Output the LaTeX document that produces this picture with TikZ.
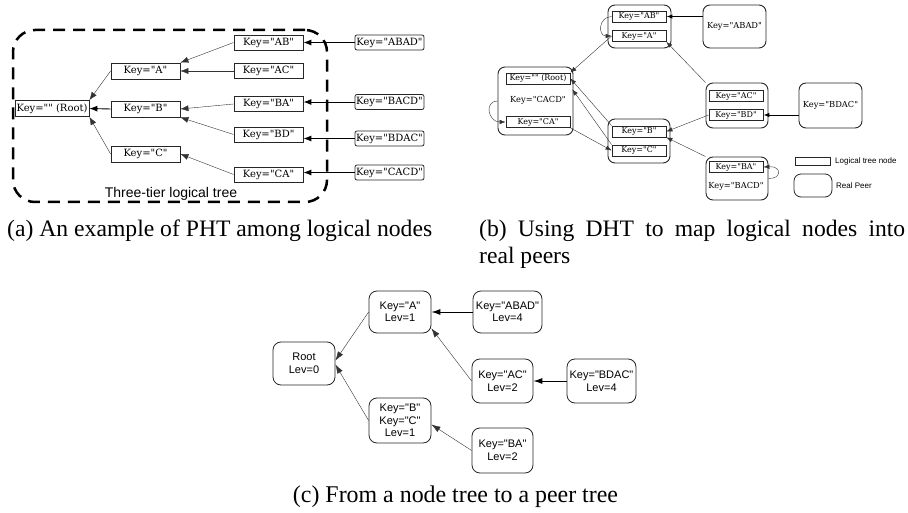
\documentclass[tikz,border=0pt]{standalone}
\usepackage{graphicx}
\usepackage{fontspec}
\setmainfont{Liberation Serif}
\newfontfamily\dvs{DejaVu Serif}
\newfontfamily\lsans{Liberation Sans}
\usetikzlibrary{arrows.meta}
\newcommand\capfont{\normalfont\fontsize{23.6}{28}\selectfont}
\newcommand\capfontc{\normalfont\fontsize{24}{28}\selectfont}
\begin{document}
\begin{tikzpicture}[x=1pt,y=-1pt,
  boxa/.style={draw=black!85, line width=0.8pt, minimum width=69pt, minimum height=15pt, inner sep=0pt, font=\dvs\fontsize{10}{12}\selectfont},
  leafa/.style={boxa, rounded corners=2pt},
  boxb/.style={draw=black!85, line width=0.8pt, minimum width=54pt, minimum height=11pt, inner sep=0pt, font=\dvs\fontsize{8}{10}\selectfont},
  peer/.style={draw=black!85, line width=0.9pt, rounded corners=7pt, inner sep=0pt, font=\dvs\fontsize{8.3}{10}\selectfont},
  plain/.style={inner sep=0pt},
  cnode/.style={draw=black!85, line width=0.8pt, rounded corners=8pt, align=center, inner sep=0pt, font=\lsans\fontsize{11}{12.5}\selectfont},
  thin arrow/.style={-{Latex[length=8pt,width=6pt]}, line width=0.4pt, draw=black!80},
  bold arrow/.style={-{Latex[length=8pt,width=6pt]}, line width=0.9pt},
  thin arrowb/.style={-{Latex[length=6pt,width=4.5pt]}, line width=0.4pt, draw=black!80},
  bold arrowb/.style={-{Latex[length=6pt,width=4.5pt]}, line width=0.9pt},
  thin arrowc/.style={-{Latex[length=9pt,width=6pt]}, line width=0.4pt, draw=black!80},
  bold arrowc/.style={-{Latex[length=9pt,width=6pt]}, line width=0.9pt},
  legend/.style={inner sep=0pt, anchor=west, font=\lsans\fontsize{8}{9}\selectfont}
]
\useasboundingbox (0,0) rectangle (908,513);

% ---------------- panel (a) ----------------
\node[draw, line width=2.5pt, dash pattern=on 12pt off 8pt, rounded corners=22pt,
      minimum width=314pt, minimum height=172pt, inner sep=0pt] (tier) at (170,116) {};
\node[plain, font=\lsans\fontsize{14}{16}\selectfont] (tierlabel) at (171,194) {Three-tier logical tree};

\node[boxa, minimum width=74pt, minimum height=16pt] (aR) at (52,108.5) {Key="" (Root)};
\node[boxa, minimum height=16pt] (aA) at (145.5,71) {Key="A"};
\node[boxa, minimum height=16pt] (aB) at (145.5,109) {Key="B"};
\node[boxa, minimum height=16pt] (aC) at (145.5,154) {Key="C"};
\node[boxa] (aAB) at (268.5,42.5) {Key="AB"};
\node[boxa] (aAC) at (268.5,71) {Key="AC"};
\node[boxa] (aBA) at (268.5,104) {Key="BA"};
\node[boxa] (aBD) at (268.5,134.5) {Key="BD"};
\node[boxa] (aCA) at (268.5,174.5) {Key="CA"};
\node[leafa] (aABAD) at (389.5,42.5) {Key="ABAD"};
\node[leafa] (aBACD) at (389.5,102) {Key="BACD"};
\node[leafa] (aBDAC) at (389.5,138.5) {Key="BDAC"};
\node[leafa] (aCACD) at (389.5,172.5) {Key="CACD"};

\draw[thin arrow] (aA.west) -- (aR.north east);
\draw[bold arrow] (aB.west) -- (aR.east);
\draw[thin arrow] (aC.west) -- (aR.south east);
\draw[thin arrow] (aAB.west) -- (aA.north east);
\draw[thin arrow] (aAC.west) -- (aA.east);
\draw[thin arrow] (aBA.west) -- (aB.east);
\draw[thin arrow] (aBD.west) -- (aB.south east);
\draw[thin arrow] (aCA.west) -- (aC.east);
\draw[bold arrow] (aABAD.west) -- (aABAD.west -| aAB.east);
\draw[bold arrow] (aBACD.west) -- (aBACD.west -| aBA.east);
\draw[bold arrow] (aBDAC.west) -- (aBDAC.west -| aBD.east);
\draw[bold arrow] (aCACD.west) -- (aCACD.west -| aCA.east);

% ---------------- panel (b) ----------------
\node[peer, minimum width=63pt, minimum height=43pt] (bP1) at (639.5,26.5) {};
\node[boxb] (bAB) at (639,16.5) {Key="AB"};
\node[boxb] (bA) at (639,36) {Key="A"};
\node[peer, minimum width=63pt, minimum height=43pt] (bPABAD) at (734.5,26.5) {Key="ABAD"};

\node[peer, minimum width=75pt, minimum height=68pt] (bPR) at (535.5,101) {};
\node[boxb, minimum width=64pt] (bR) at (538,78.5) {Key="" (Root)};
\node[plain, font=\dvs\fontsize{8.3}{10}\selectfont] (bCACD) at (538,100) {Key="CACD"};
\node[boxb, minimum width=64pt] (bCA) at (538,122) {Key="CA"};

\node[peer, minimum width=62pt, minimum height=44pt] (bPBC) at (639,141) {};
\node[boxb] (bB) at (639,131.5) {Key="B"};
\node[boxb] (bC) at (639,150.5) {Key="C"};

\node[peer, minimum width=62pt, minimum height=45pt] (bPAC) at (737,105.5) {};
\node[boxb] (bAC) at (736,96) {Key="AC"};
\node[boxb] (bBD) at (736,115) {Key="BD"};

\node[peer, minimum width=63pt, minimum height=45pt] (bPBDAC) at (830.5,105.5) {Key="BDAC"};

\node[peer, minimum width=62pt, minimum height=43pt] (bPBA) at (737,178.5) {};
\node[boxb] (bBA) at (736,167) {Key="BA"};
\node[plain, font=\dvs\fontsize{8.3}{10}\selectfont] (bBACD) at (736,186) {Key="BACD"};

% legend
\node[draw=black!85, line width=0.6pt, minimum width=35pt, minimum height=8pt, inner sep=0pt] (lgbox) at (812.5,161) {};
\node[legend] (lgboxt) at (835,161) {Logical tree node};
\node[draw=black!85, line width=0.8pt, rounded corners=7pt, minimum width=38pt, minimum height=23pt, inner sep=0pt] (lgpeer) at (813,185.5) {};
\node[legend] (lgpeert) at (836,186) {Real Peer};

\draw[bold arrowb] (bPABAD.west |- bAB) -- (bAB.east);
\draw[bold arrowb] (bPBDAC.west |- bBD) -- (bBD.east);
\draw[thin arrowb] (bAB.west) .. controls (598,17) and (598,36) .. (bA.west);
\draw[thin arrowb] (bPR.west) .. controls (484,101) and (488,122) .. (bCA.west);
\draw[thin arrowb] (bPBA.east) .. controls (782,179) and (782,166) .. (bBA.east);
\draw[thin arrowb] (bA.west) -- (bR.north east);
\draw[thin arrowb] (bPAC.north west) -- (bA.south east);
\draw[thin arrowb] (bB.north west) -- (bR.east);
\draw[thin arrowb] (bC.north west) -- ([shift={(2pt,-5pt)}]bR.south east);
\draw[thin arrowb] (bCA.south east) -- (bC.west);
\draw[thin arrowb] (bBD.west) -- (bB.east);
\draw[thin arrowb] (bPBA.north west) -- (bB.south east);

% ---------------- panel (c) ----------------
\node[cnode, minimum width=62pt, minimum height=43pt] (cR) at (304,363.5) {Root\\Lev=0};
\node[cnode, minimum width=62pt, minimum height=42pt] (cA) at (400,312) {Key="A"\\Lev=1};
\node[cnode, minimum width=62pt, minimum height=45pt] (cBC) at (400,420.5) {Key="B"\\Key="C"\\Lev=1};
\node[cnode, minimum width=69pt, minimum height=42pt] (cABAD) at (507.5,312) {Key="ABAD"\\Lev=4};
\node[cnode, minimum width=61pt, minimum height=44pt] (cAC) at (502.5,381) {Key="AC"\\Lev=2};
\node[cnode, minimum width=69pt, minimum height=44pt] (cBDAC) at (601.5,381) {Key="BDAC"\\Lev=4};
\node[cnode, minimum width=61pt, minimum height=45pt] (cBA) at (502.5,450.5) {Key="BA"\\Lev=2};

\draw[thin arrowc] (cA.west) -- ([yshift=3pt]cR.east);
\draw[thin arrowc] (cBC.west) -- ([yshift=-1pt]cR.east);
\draw[bold arrowc] (cABAD.west) -- (cA.east);
\draw[thin arrowc] (cAC.west) -- ([yshift=5pt]cA.south east);
\draw[bold arrowc] (cBDAC.west) -- (cAC.east);
\draw[thin arrowc] (cBA.west) -- ([yshift=-4pt]cBC.east);

% ---------------- captions ----------------
\node[plain, anchor=west] (capa) at (7,231) {\capfont\resizebox{425pt}{\height}{(a) An example of PHT among logical nodes}};
\node[plain, anchor=west] (capb) at (479,231) {\capfont\makebox[426pt][s]{(b) Using DHT to map logical nodes into}};
\node[plain, anchor=west] (capb2) at (479,258) {\capfont real peers};
\node[plain] (capc) at (455.5,497) {\capfontc\resizebox{325pt}{\height}{(c) From a node tree to a peer tree}};
\end{tikzpicture}
\end{document}
